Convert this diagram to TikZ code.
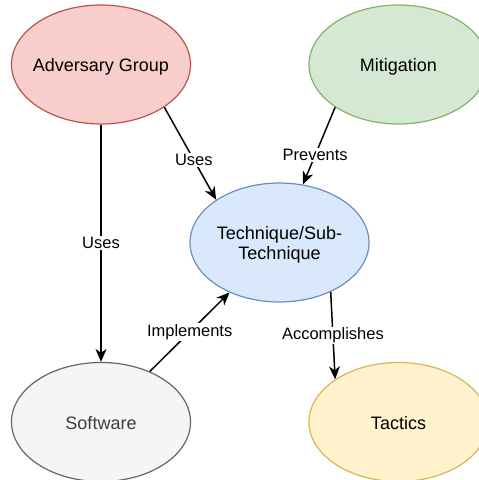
\documentclass[tikz,border=0pt]{standalone}
\usepackage{fontspec}
\setmainfont{Liberation Sans}
\usetikzlibrary{shapes.geometric,arrows.meta}
\definecolor{redfill}{HTML}{F8CECC}\definecolor{redline}{HTML}{B85450}
\definecolor{greenfill}{HTML}{D5E8D4}\definecolor{greenline}{HTML}{82B366}
\definecolor{bluefill}{HTML}{DAE8FC}\definecolor{blueline}{HTML}{6C8EBF}
\definecolor{grayfill}{HTML}{F5F5F5}\definecolor{grayline}{HTML}{666666}
\definecolor{yellowfill}{HTML}{FFF2CC}\definecolor{yellowline}{HTML}{D6B656}
\newcommand{\ovaltext}[1]{\makebox[0pt]{#1}}
\tikzstyle{blob}=[ellipse, draw, line width=1.2pt, minimum width=179pt, minimum height=119pt, inner sep=0pt, align=center, text height=14pt, text depth=0pt, font=\fontsize{18pt}{20pt}\selectfont]
\tikzstyle{link}=[line width=1.5pt, -{Stealth[length=13pt,width=11pt,inset=4pt]}]
\tikzstyle{tag}=[fill=white, inner sep=1pt, font=\fontsize{16.5pt}{18pt}\selectfont]

\begin{document}
\begin{tikzpicture}[x=1pt, y=-1pt]
    \useasboundingbox (0,0) rectangle (479,480);
% Ellipses
    \node[blob, fill=redfill, draw=redline] (adversary) at (101,64.5) {\ovaltext{Adversary Group}};
    \node[blob, fill=greenfill, draw=greenline] (mitigation) at (398.5,64.5) {\ovaltext{Mitigation}};
    \node[blob, fill=bluefill, draw=blueline, text height=34pt] (technique) at (279.5,242.5) {\ovaltext{Technique/Sub-}\\\ovaltext{Technique}};
    \node[blob, fill=grayfill, draw=grayline, text=grayline!60!black] (software) at (101,422) {\ovaltext{Software}};
    \node[blob, fill=yellowfill, draw=yellowline] (tactics) at (398.5,422) {\ovaltext{Tactics}};
% Relations
    \draw[link] (adversary.-34) -- node[tag, pos=0.57] {Uses} (technique.146);
    \draw[link] (mitigation.214) -- node[tag, pos=0.62] {Prevents} (technique.68);
    \draw[link] (adversary.south) -- node[tag] {Uses} (software.north);
    \draw[link] (software.46) -- node[tag] {Implements} (technique.225);
    \draw[link] (technique.-44) -- node[tag] {Accomplishes} (tactics.146);
\end{tikzpicture}
\end{document}
